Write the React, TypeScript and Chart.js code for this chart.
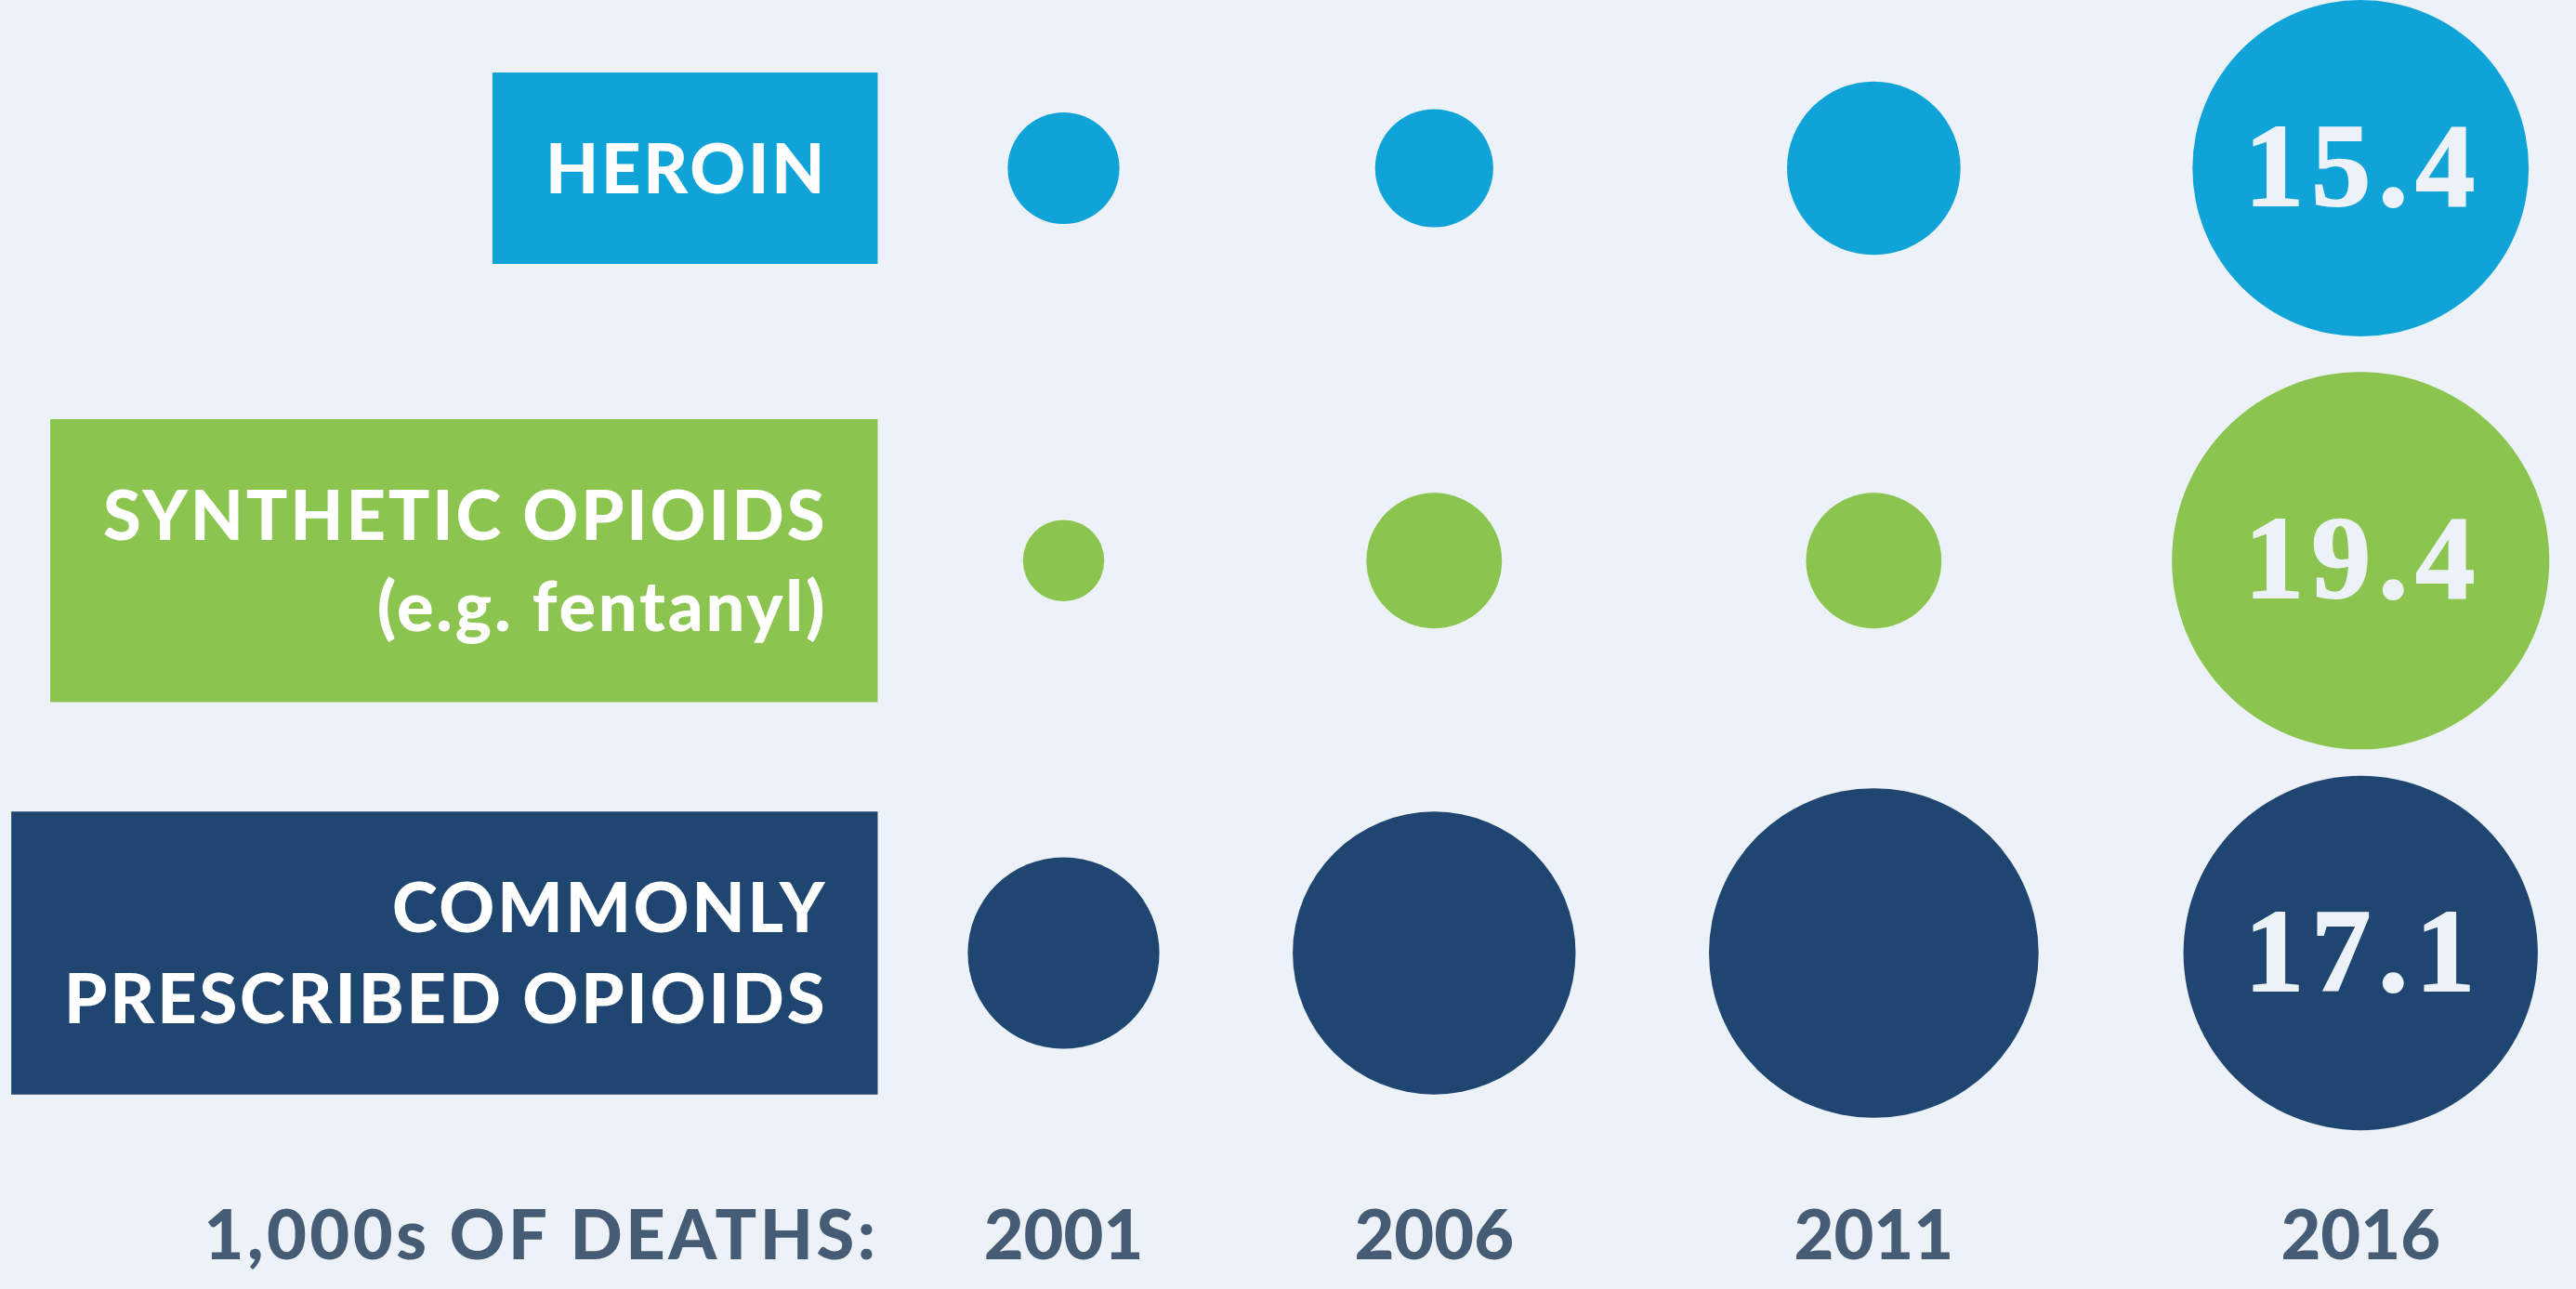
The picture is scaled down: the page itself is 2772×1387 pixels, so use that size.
import React, { useEffect, useRef } from "react";
import { Chart, registerables } from "chart.js";

Chart.register(...registerables);

// ---------- data ----------
const years = ["2001", "2006", "2011", "2016"];
const rowLabels = [["HEROIN"], ["SYNTHETIC OPIOIDS", "(e.g. fentanyl)"], ["COMMONLY", "PRESCRIBED OPIOIDS"]];
const heroin = [1.7, 1.9, 4.1, 15.4];
const synthetic = [0.9, 2.5, 2.5, 19.4];
const prescribed = [5.0, 10.9, 14.8, 17.1];
const axisTitle = "1,000s OF DEATHS:";

// ---------- styles / layout ----------
const seriesColors = ["#0fa3d8", "#8bc44f", "#1f4671"];
const BG = "#ecf2f7";
const GRAY = "#465c75";
const W = 2772;
const H = 1387;
const AXIS_H = 117;
const PX_PER_ROOT = 46.1; // bubble radius (px) per sqrt(thousand deaths): area ∝ value
const FIRST_COL_X = 1144.5;
const COL_GAP = 143.5;
const ROW_TOP = 181;
const ROW_STEP = 422.25;
const LABEL_RIGHT = 944.5;
const PAD_X = 57;
const PAD_Y = 76.5;
const CAP_H = 53;
const LINE_STEP = 98.5;
const LABEL_FONT = "900 74px Lato";
const LABEL_TRACK = 2.8;
const TICK_SIZE = 74;
const TICK_PAD = 17;

const series = [heroin, synthetic, prescribed];
const radius = (v: number) => PX_PER_ROOT * Math.sqrt(v);
const colMaxR = years.map((_, i) => Math.max(...series.map((s) => radius(s[i]))));
const colX: number[] = [];
colMaxR.forEach((r, i) => {
  colX.push(i === 0 ? FIRST_COL_X : colX[i - 1] + colMaxR[i - 1] + COL_GAP + r);
});

const labelsPlugin = {
  id: "rowLabels",
  beforeDatasetsDraw(chart: any) {
    const ctx = chart.ctx as CanvasRenderingContext2D;
    const ys = chart.scales.y;
    const xs = chart.scales.x;
    ctx.save();
    ctx.font = LABEL_FONT;
    (ctx as any).letterSpacing = LABEL_TRACK + "px";
    rowLabels.forEach((lines, i) => {
      const cy = ys.getPixelForValue(i);
      const tw = Math.max(...lines.map((l) => ctx.measureText(l).width)) - LABEL_TRACK;
      const blockH = CAP_H + (lines.length - 1) * LINE_STEP;
      const top = cy - blockH / 2;
      ctx.fillStyle = seriesColors[i];
      ctx.fillRect(LABEL_RIGHT - PAD_X * 2 - tw, top - PAD_Y, tw + PAD_X * 2, blockH + PAD_Y * 2);
      ctx.fillStyle = "#ffffff";
      ctx.textAlign = "right";
      ctx.textBaseline = "alphabetic";
      lines.forEach((l, j) =>
        ctx.fillText(l, LABEL_RIGHT - PAD_X + LABEL_TRACK, top + CAP_H + j * LINE_STEP)
      );
    });
    // axis title, aligned like the tick labels
    ctx.fillStyle = GRAY;
    ctx.textAlign = "right";
    ctx.textBaseline = "middle";
    (ctx as any).letterSpacing = "3.5px";
    ctx.fillText(axisTitle, LABEL_RIGHT + 1, xs.top + TICK_PAD + (TICK_SIZE * 1.2) / 2);
    ctx.restore();
  },
  afterDatasetsDraw(chart: any) {
    const ctx = chart.ctx as CanvasRenderingContext2D;
    ctx.save();
    ctx.font = 'bold 128px "Liberation Serif"';
    (ctx as any).letterSpacing = "8px";
    ctx.fillStyle = BG;
    ctx.strokeStyle = BG;
    ctx.lineWidth = 2;
    ctx.textAlign = "center";
    ctx.textBaseline = "alphabetic";
    series.forEach((s, si) => {
      const last = s.length - 1;
      const el = chart.getDatasetMeta(si).data[last];
      const txt = s[last].toFixed(1);
      ctx.fillText(txt, el.x + 3, el.y + 40);
      ctx.strokeText(txt, el.x + 3, el.y + 40);
    });
    ctx.restore();
  },
};

export default function App() {
  const ref = useRef<HTMLCanvasElement | null>(null);
  useEffect(() => {
    if (!ref.current) return;
    const chart = new Chart(ref.current, {
      type: "bubble",
      data: {
        datasets: series.map((s, si) => ({
          label: rowLabels[si].join(" "),
          data: s.map((v, i) => ({ x: colX[i], y: si, r: radius(v) })),
          backgroundColor: seriesColors[si],
          borderWidth: 0,
          hoverBorderWidth: 0,
          clip: false,
        })),
      },
      options: {
        responsive: false,
        animation: false,
        devicePixelRatio: 1,
        events: [],
        layout: { padding: 0, autoPadding: false },
        plugins: { legend: { display: false }, tooltip: { enabled: false } },
        scales: {
          x: {
            type: "linear",
            min: 0,
            max: W,
            position: "bottom",
            grid: { display: false, drawTicks: false },
            border: { display: false },
            afterBuildTicks: (scale: any) => {
              scale.ticks = colX.map((v) => ({ value: v }));
            },
            afterFit: (scale: any) => {
              scale.height = AXIS_H;
            },
            ticks: {
              autoSkip: false,
              maxRotation: 0,
              padding: TICK_PAD,
              color: GRAY,
              font: { family: "Lato", weight: "900", size: TICK_SIZE },
              callback: (_v: any, i: number) => years[i],
            },
          },
          y: {
            type: "linear",
            reverse: true,
            display: false,
            min: -ROW_TOP / ROW_STEP,
            max: -ROW_TOP / ROW_STEP + (H - AXIS_H) / ROW_STEP,
          },
        },
      },
      plugins: [labelsPlugin],
    } as any);
    return () => chart.destroy();
  }, []);
  return (
    <div style={{ position: "fixed", left: 0, top: 0, width: W, height: H, background: BG }}>
      <canvas ref={ref} width={W} height={H} style={{ width: W, height: H, display: "block" }} />
    </div>
  );
}
